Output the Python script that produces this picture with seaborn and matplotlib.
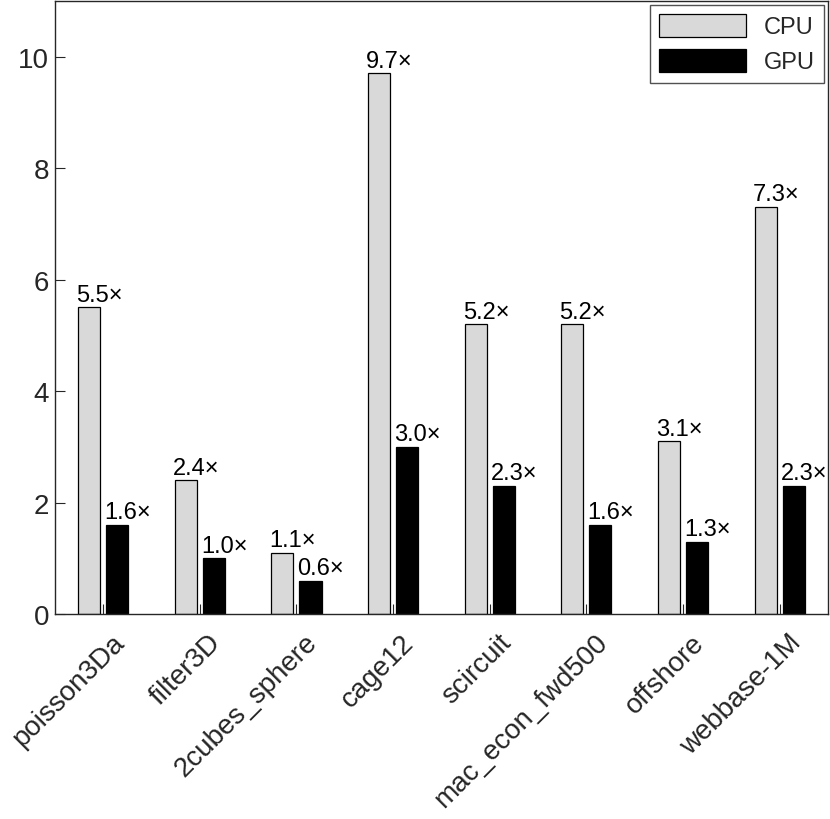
import matplotlib
matplotlib.use("Agg")
import matplotlib.pyplot as plt
import matplotlib.transforms as mtransforms
import seaborn as sns
import pandas as pd

matrices = ["poisson3Da", "filter3D", "2cubes_sphere", "cage12", "scircuit",
            "mac_econ_fwd500", "offshore", "webbase-1M"]
cpu = [5.5, 2.4, 1.1, 9.7, 5.2, 5.2, 3.1, 7.3]
gpu = [1.6, 1.0, 0.6, 3.0, 2.3, 1.6, 1.3, 2.3]
devices = ["CPU", "GPU"]
yticks = [0, 2, 4, 6, 8, 10]

df = pd.DataFrame({
    "matrix": matrices * 2,
    "speedup": cpu + gpu,
    "device": ["CPU"] * len(cpu) + ["GPU"] * len(gpu),
})

sns.set_theme(style="white")
plt.rcParams['font.family'] = ['Liberation Sans', 'DejaVu Sans']

fig = plt.figure(figsize=(8.3, 8.2), dpi=100)
ax = fig.add_axes([0.066, 0.25, 0.9316, 0.7476])

sns.barplot(data=df, x="matrix", y="speedup", hue="device", order=matrices,
            hue_order=devices, palette=["#d9d9d9", "#000000"], width=0.58, gap=0.21,
            edgecolor="black", linewidth=0.9, ax=ax, errorbar=None, saturation=1)

for cont in ax.containers:
    for bar in cont:
        h = bar.get_height()
        ax.text(bar.get_x() - 0.02, h + 0.03, f"{h:.1f}\u00d7", ha="left", va="bottom",
                fontsize=17, color="black")

ax.set_ylim(0, 11)
ax.set_xlim(-0.5, len(matrices) - 0.5)
ax.set_yticks(yticks)
ax.set_yticklabels([str(t) for t in yticks], fontsize=20, color="#262626")
ax.set_xticks(range(len(matrices)))
ax.tick_params(axis="both", direction="in", length=7, width=0.8, colors="#262626",
               left=True, bottom=True, top=False, right=False)
ax.tick_params(axis="y", pad=4)
ax.tick_params(axis="x", pad=8)
ax.set_xticklabels(matrices, rotation=45, ha="right", va="top", rotation_mode="anchor",
                   fontsize=20, color="#262626")
offset = mtransforms.ScaledTranslation(8 / 100, -4 / 100, fig.dpi_scale_trans)
for lbl in ax.get_xticklabels():
    lbl.set_transform(lbl.get_transform() + offset)
ax.set_xlabel("")
ax.set_ylabel("")
for s in ax.spines.values():
    s.set_color("#262626")
    s.set_linewidth(1.0)

leg = ax.legend(loc="upper right", fontsize=17, frameon=True, fancybox=False,
                edgecolor="#262626", handlelength=3.7, handleheight=1.1,
                borderaxespad=0.15, title=None, labelspacing=0.45, handletextpad=0.75,
                borderpad=0.4)
leg.get_frame().set_linewidth(1.0)

fig.savefig("out.png", dpi=100, facecolor="white")
